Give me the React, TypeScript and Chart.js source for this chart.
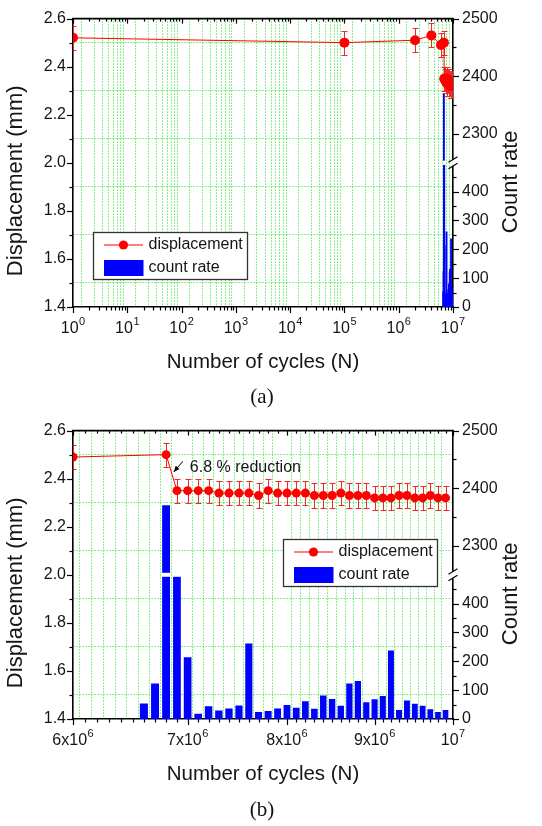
import React, { useEffect, useRef } from 'react';
import { Chart, registerables } from 'chart.js';

Chart.register(...registerables);

// ---------------- data ----------------
const DISP_CYCLES = [
  1, 100000, 2000000, 4000000, 6000000, 6800000,
  6900000, 7000000, 7100000, 7200000, 7300000, 7400000, 7500000, 7600000, 7700000, 7800000,
  7900000, 8000000, 8100000, 8200000, 8300000, 8400000, 8500000, 8600000, 8700000, 8800000,
  8900000, 9000000, 9100000, 9200000, 9300000, 9400000, 9500000, 9600000, 9700000, 9800000, 9900000,
];
const DISP_VALUES = [
  2.52, 2.50, 2.51, 2.53, 2.49, 2.50,
  2.35, 2.35, 2.35, 2.35, 2.34, 2.34, 2.34, 2.34, 2.33, 2.35,
  2.34, 2.34, 2.34, 2.34, 2.33, 2.33, 2.33, 2.34, 2.33, 2.33,
  2.33, 2.32, 2.32, 2.32, 2.33, 2.33, 2.32, 2.32, 2.33, 2.32, 2.32,
];
const DISP_ERR = [
  0.05, 0.05, 0.05, 0.05, 0.05, 0.05,
  0.05, 0.05, 0.05, 0.05, 0.05, 0.05, 0.05, 0.05, 0.05, 0.05,
  0.05, 0.05, 0.05, 0.05, 0.05, 0.05, 0.05, 0.05, 0.05, 0.05,
  0.05, 0.05, 0.05, 0.05, 0.05, 0.05, 0.05, 0.05, 0.05, 0.05, 0.05,
];
const COUNT_CYCLES = [
  6600000, 6700000, 6800000, 6900000, 7000000, 7100000, 7200000, 7300000, 7400000, 7500000,
  7600000, 7700000, 7800000, 7900000, 8000000, 8100000, 8200000, 8300000, 8400000, 8500000,
  8600000, 8700000, 8800000, 8900000, 9000000, 9100000, 9200000, 9300000, 9400000, 9500000,
  9600000, 9700000, 9800000, 9900000,
];
const COUNT_VALUES = [
  53, 122, 2370, 1200, 213, 17, 43, 28, 35, 46,
  261, 23, 27, 35, 47, 38, 60, 34, 80, 68,
  45, 122, 131, 57, 67, 79, 236, 30, 63, 52,
  45, 33, 23, 30,
];

// ---------------- axes / ticks ----------------
const DISP_RANGE = [1.4, 2.6];
const DISP_TICKS = [1.4, 1.5, 1.6, 1.7, 1.8, 1.9, 2.0, 2.1, 2.2, 2.3, 2.4, 2.5, 2.6];
const DISP_TICK_LABELS = ['1.4', '1.6', '1.8', '2.0', '2.2', '2.4', '2.6'];
const DISP_GRID = [1.5, 1.7, 1.9, 2.1, 2.3, 2.5];

const COUNT_LOW_RANGE = [0, 500];
const COUNT_HIGH_RANGE = [2250, 2500];
const COUNT_LOW_TICKS = [0, 50, 100, 150, 200, 250, 300, 350, 400, 450];
const COUNT_HIGH_TICKS = [2300, 2350, 2400, 2450, 2500];
const COUNT_TICK_LABELS = [0, 100, 200, 300, 400, 2300, 2400, 2500];

const X_A_DECADES = [1, 10, 100, 1000, 10000, 100000, 1000000];
const X_A_MULT = [1, 2, 3, 4, 5, 6, 7, 8, 9];
const X_A_MAJOR = [1, 10, 100, 1000, 10000, 100000, 1000000, 10000000];
const X_A_LABELS = [['10', '0'], ['10', '1'], ['10', '2'], ['10', '3'], ['10', '4'], ['10', '5'], ['10', '6'], ['10', '7']];

const X_B_MAJOR = [6000000, 7000000, 8000000, 9000000, 10000000];
const X_B_LABELS = [['6x10', '6'], ['7x10', '6'], ['8x10', '6'], ['9x10', '6'], ['10', '7']];
const X_B_MINOR_STEP = 100000;

const ANNOT_TEXT = '6.8 % reduction';
const ANNOT_ARROW_FROM = [6955000, 2.472];
const ANNOT_ARROW_TO = [6870000, 2.428];
const ANNOT_TEXT_AT = [7020000, 2.445];

// ---------------- style ----------------
const FONT = "'Liberation Sans', Arial, Helvetica, sans-serif";
const RED = '#ff0000';
const ERR_COLOR = '#f02a2a';
const BLUE = '#0000ff';
const GRID = 'rgb(20,225,20)';
const TEXT = '#151515';
const CW = 542;
const CH = 385;

const near = (a: number, b: number) => Math.abs(a - b) <= 1e-7 * Math.max(1, Math.abs(b));

function ticksA(): number[] {
  const out: number[] = [];
  X_A_DECADES.forEach((d) => X_A_MULT.forEach((m) => out.push(m * d)));
  out.push(10000000);
  return out;
}
function ticksB(): number[] {
  const out: number[] = [];
  for (let v = X_B_MAJOR[0]; v < X_B_MAJOR[X_B_MAJOR.length - 1] - 1; v += X_B_MINOR_STEP) out.push(v);
  out.push(X_B_MAJOR[X_B_MAJOR.length - 1]);
  return out;
}

type Panel = {
  xMin: number; xMax: number; xTicks: number[]; xMajor: number[]; xLabels: string[][];
  pointRadius: number; barThickness: any; legendDX: number; legendDY: number; annotate: boolean;
};

const PANEL_A: Panel = {
  xMin: 1, xMax: 10000000, xTicks: ticksA(), xMajor: X_A_MAJOR, xLabels: X_A_LABELS,
  pointRadius: 5, barThickness: 1.2, legendDX: 19.7, legendDY: 213.3, annotate: false,
};
const PANEL_B: Panel = {
  xMin: 6000000, xMax: 10000000, xTicks: ticksB(), xMajor: X_B_MAJOR, xLabels: X_B_LABELS,
  pointRadius: 4.5, barThickness: 'flex', legendDX: 209.7, legendDY: 108.3, annotate: true,
};

function line(ctx: CanvasRenderingContext2D, x1: number, y1: number, x2: number, y2: number) {
  ctx.beginPath();
  ctx.moveTo(x1, y1);
  ctx.lineTo(x2, y2);
  ctx.stroke();
}

function makePlugin(P: Panel) {
  const isMajorX = (v: number) => P.xMajor.some((m) => near(v, m));
  return {
    id: 'custom',
    beforeDatasetDraw(chart: any, args: any) {
      if (args.meta.type !== 'line') return;
      const { ctx, chartArea: a } = chart;
      const xs = chart.scales.x;
      const ys = chart.scales.y;
      ctx.save();
      ctx.beginPath();
      ctx.rect(a.left, a.top, a.right - a.left, a.bottom - a.top);
      ctx.clip();
      ctx.strokeStyle = ERR_COLOR;
      ctx.lineWidth = 1;
      const cap = 3;
      DISP_CYCLES.forEach((c, i) => {
        if (c < P.xMin || c > P.xMax) return;
        const px = Math.round(xs.getPixelForValue(c)) + 0.5;
        const y1 = Math.round(ys.getPixelForValue(DISP_VALUES[i] + DISP_ERR[i])) + 0.5;
        const y2 = Math.round(ys.getPixelForValue(DISP_VALUES[i] - DISP_ERR[i])) + 0.5;
        ctx.beginPath();
        ctx.moveTo(px, y1); ctx.lineTo(px, y2);
        ctx.moveTo(px - cap, y1); ctx.lineTo(px + cap, y1);
        ctx.moveTo(px - cap, y2); ctx.lineTo(px + cap, y2);
        ctx.stroke();
      });
      ctx.restore();
    },
    afterDatasetsDraw(chart: any) {
      const { ctx } = chart;
      const yLow = chart.scales.yLow;
      const yb = yLow.top;
      const meta = chart.getDatasetMeta(1);
      ctx.save();
      ctx.fillStyle = '#ffffff';
      meta.data.forEach((el: any, i: number) => {
        if (COUNT_VALUES[i] > COUNT_LOW_RANGE[1]) {
          const w = el.width;
          ctx.fillRect(el.x - w / 2 - 0.5, yb - 2, w + 1, 4);
        }
      });
      ctx.restore();
    },
    afterDraw(chart: any) {
      const { ctx, chartArea: a } = chart;
      const xs = chart.scales.x;
      const ys = chart.scales.y;
      const yLow = chart.scales.yLow;
      const yHigh = chart.scales.yHigh;
      ctx.save();

      // top frame
      ctx.strokeStyle = '#000';
      ctx.lineWidth = 1.6;
      line(ctx, a.left - 0.8, a.top, a.right + 0.8, a.top);

      // tick marks
      ctx.lineWidth = 1.2;
      xs.ticks.forEach((t: any) => {
        const px = Math.round(xs.getPixelForValue(t.value)) + 0.5;
        const major = isMajorX(t.value);
        line(ctx, px, a.bottom, px, a.bottom + (major ? 6 : 3.5));
        line(ctx, px, a.top, px, a.top + (major ? 5 : 3));
      });
      ys.ticks.forEach((t: any) => {
        const py = Math.round(ys.getPixelForValue(t.value)) + 0.5;
        const major = DISP_TICK_LABELS.some((l) => near(+l, t.value));
        line(ctx, a.left - (major ? 6 : 3.5), py, a.left, py);
      });
      [yLow, yHigh].forEach((s: any) => {
        s.ticks.forEach((t: any) => {
          const py = Math.round(s.getPixelForValue(t.value)) + 0.5;
          const major = COUNT_TICK_LABELS.includes(t.value);
          line(ctx, a.right, py, a.right + (major ? 6 : 3.5), py);
        });
      });

      // axis break marks
      const yb = yLow.top;
      ctx.fillStyle = '#ffffff';
      ctx.fillRect(a.right - 2, yb - 3, 4, 6);
      ctx.strokeStyle = '#000';
      ctx.lineWidth = 1.2;
      line(ctx, a.right - 4.5, yb - 0.5, a.right + 4.5, yb - 6);
      line(ctx, a.right - 4.5, yb + 6, a.right + 4.5, yb + 0.5);

      // x tick labels with superscripts
      ctx.fillStyle = TEXT;
      ctx.textBaseline = 'alphabetic';
      ctx.textAlign = 'left';
      P.xMajor.forEach((v, i) => {
        const [base, exp] = P.xLabels[i];
        const px = xs.getPixelForValue(v);
        ctx.font = `16px ${FONT}`;
        const wb = ctx.measureText(base).width;
        ctx.font = `11px ${FONT}`;
        const we = ctx.measureText(exp).width;
        const x0 = px - (wb + we + 0.5) / 2;
        const by = a.bottom + 25.5;
        ctx.font = `16px ${FONT}`;
        ctx.fillText(base, x0, by);
        ctx.font = `11px ${FONT}`;
        ctx.fillText(exp, x0 + wb + 0.5, by - 8);
      });

      // y titles
      const cy = (a.top + a.bottom) / 2 + 18;
      ctx.font = `22px ${FONT}`;
      ctx.textAlign = 'center';
      ctx.textBaseline = 'middle';
      ctx.save();
      ctx.translate(16, cy);
      ctx.rotate(-Math.PI / 2);
      ctx.fillText('Displacement (mm)', 0, 0);
      ctx.restore();
      ctx.save();
      ctx.translate(a.right + 58, cy + 1);
      ctx.rotate(-Math.PI / 2);
      ctx.fillText('Count rate', 0, 0);
      ctx.restore();

      // legend
      const bx = Math.round(a.left + P.legendDX) + 0.5;
      const by = Math.round(a.top + P.legendDY) + 0.5;
      const bw = 154;
      const bh = 47;
      ctx.fillStyle = '#ffffff';
      ctx.fillRect(bx, by, bw, bh);
      ctx.strokeStyle = '#333';
      ctx.lineWidth = 1.3;
      ctx.strokeRect(bx, by, bw, bh);
      ctx.strokeStyle = RED;
      ctx.lineWidth = 1;
      line(ctx, bx + 10.5, by + 12.5, bx + 49.5, by + 12.5);
      ctx.fillStyle = RED;
      ctx.beginPath();
      ctx.arc(bx + 30, by + 12.5, 4.6, 0, Math.PI * 2);
      ctx.fill();
      ctx.fillStyle = BLUE;
      ctx.fillRect(bx + 10.5, by + 27.5, 39.5, 16);
      ctx.fillStyle = TEXT;
      ctx.font = `16px ${FONT}`;
      ctx.textAlign = 'left';
      ctx.textBaseline = 'middle';
      ctx.fillText('displacement', bx + 55, by + 12.5);
      ctx.fillText('count rate', bx + 55, by + 35.5);

      // annotation
      if (P.annotate) {
        const fx = xs.getPixelForValue(ANNOT_ARROW_FROM[0]);
        const fy = ys.getPixelForValue(ANNOT_ARROW_FROM[1]);
        const tx = xs.getPixelForValue(ANNOT_ARROW_TO[0]);
        const ty = ys.getPixelForValue(ANNOT_ARROW_TO[1]);
        ctx.strokeStyle = '#000';
        ctx.fillStyle = '#000';
        ctx.lineWidth = 1;
        line(ctx, fx, fy, tx, ty);
        const ang = Math.atan2(ty - fy, tx - fx);
        const hl = 6;
        const hw = 2.6;
        ctx.beginPath();
        ctx.moveTo(tx, ty);
        ctx.lineTo(tx - hl * Math.cos(ang) + hw * Math.sin(ang), ty - hl * Math.sin(ang) - hw * Math.cos(ang));
        ctx.lineTo(tx - hl * Math.cos(ang) - hw * Math.sin(ang), ty - hl * Math.sin(ang) + hw * Math.cos(ang));
        ctx.closePath();
        ctx.fill();
        ctx.fillStyle = TEXT;
        ctx.font = `16px ${FONT}`;
        ctx.textAlign = 'left';
        ctx.textBaseline = 'middle';
        ctx.fillText(ANNOT_TEXT, xs.getPixelForValue(ANNOT_TEXT_AT[0]), ys.getPixelForValue(ANNOT_TEXT_AT[1]));
      }
      ctx.restore();
    },
  };
}

function makeConfig(P: Panel): any {
  const isMajorX = (v: number) => P.xMajor.some((m) => near(v, m));
  const transparent = 'rgba(0,0,0,0)';
  const tickFont = { family: FONT, size: 16 };
  return {
    type: 'bar',
    data: {
      datasets: [
        {
          type: 'line',
          label: 'displacement',
          data: DISP_CYCLES.map((x, i) => ({ x, y: DISP_VALUES[i] })),
          xAxisID: 'x',
          yAxisID: 'y',
          borderColor: RED,
          backgroundColor: RED,
          borderWidth: 1,
          pointRadius: P.pointRadius,
          pointHoverRadius: P.pointRadius,
          pointBackgroundColor: RED,
          pointBorderColor: RED,
          pointBorderWidth: 0,
          tension: 0,
          order: 0,
        },
        {
          type: 'bar',
          label: 'count rate',
          data: COUNT_CYCLES.map((x, i) => ({ x, y: Math.min(COUNT_VALUES[i], COUNT_LOW_RANGE[1]) })),
          xAxisID: 'x',
          yAxisID: 'yLow',
          backgroundColor: BLUE,
          borderWidth: 0,
          stack: 'count',
          barThickness: P.barThickness,
          categoryPercentage: 1,
          barPercentage: 0.66,
          order: 1,
        },
        {
          type: 'bar',
          label: 'count rate (upper)',
          data: COUNT_CYCLES.map((x, i) => ({
            x,
            y: COUNT_VALUES[i] > COUNT_HIGH_RANGE[0] ? [COUNT_HIGH_RANGE[0], COUNT_VALUES[i]] : null,
          })),
          xAxisID: 'x',
          yAxisID: 'yHigh',
          backgroundColor: BLUE,
          borderWidth: 0,
          stack: 'count',
          barThickness: P.barThickness,
          categoryPercentage: 1,
          barPercentage: 0.66,
          order: 1,
        },
      ],
    },
    options: {
      responsive: false,
      animation: false,
      events: [],
      layout: { padding: { top: 16, left: 0, right: 0, bottom: 0 } },
      plugins: { legend: { display: false }, tooltip: { enabled: false } },
      scales: {
        x: {
          type: 'logarithmic',
          position: 'bottom',
          min: P.xMin,
          max: P.xMax,
          afterBuildTicks: (s: any) => { s.ticks = P.xTicks.map((v) => ({ value: v })); },
          afterFit: (s: any) => { s.height = CH - 307; },
          ticks: { display: false, autoSkip: false },
          grid: {
            drawTicks: false,
            lineWidth: 1,
            color: (c: any) => (c.tick && !isMajorX(c.tick.value) ? GRID : transparent),
          },
          border: { display: true, color: '#000', width: 1.6, dash: [1, 2] },
          title: {
            display: true,
            text: 'Number of cycles (N)',
            color: TEXT,
            font: { family: FONT, size: 20.5 },
            padding: { top: 0, bottom: 10.7 },
          },
        },
        y: {
          type: 'linear',
          position: 'left',
          min: DISP_RANGE[0],
          max: DISP_RANGE[1],
          afterBuildTicks: (s: any) => { s.ticks = DISP_TICKS.map((v) => ({ value: v })); },
          afterFit: (s: any) => { s.width = 73; },
          ticks: {
            autoSkip: false,
            padding: 7,
            color: TEXT,
            font: tickFont,
            callback: (v: number) => DISP_TICK_LABELS.find((l) => near(+l, v)) ?? '',
          },
          grid: {
            drawTicks: false,
            lineWidth: 1,
            color: (c: any) => (c.tick && DISP_GRID.some((g) => near(g, c.tick.value)) ? GRID : transparent),
          },
          border: { display: true, color: '#000', width: 1.6, dash: [1, 2] },
        },
        yHigh: {
          type: 'linear',
          position: 'right',
          stack: 'count',
          stackWeight: 1,
          min: COUNT_HIGH_RANGE[0],
          max: COUNT_HIGH_RANGE[1],
          afterBuildTicks: (s: any) => { s.ticks = COUNT_HIGH_TICKS.map((v) => ({ value: v })); },
          afterFit: (s: any) => { s.width = CW - 453; },
          ticks: {
            autoSkip: false,
            padding: 9,
            color: TEXT,
            font: tickFont,
            callback: (v: number) => (COUNT_TICK_LABELS.includes(v) ? String(v) : ''),
          },
          grid: { display: false, drawTicks: false },
          border: { display: true, color: '#000', width: 1.6 },
        },
        yLow: {
          type: 'linear',
          position: 'right',
          stack: 'count',
          stackWeight: 1,
          min: COUNT_LOW_RANGE[0],
          max: COUNT_LOW_RANGE[1],
          afterBuildTicks: (s: any) => { s.ticks = COUNT_LOW_TICKS.map((v) => ({ value: v })); },
          afterFit: (s: any) => { s.width = CW - 453; },
          ticks: {
            autoSkip: false,
            padding: 9,
            color: TEXT,
            font: tickFont,
            callback: (v: number) => (COUNT_TICK_LABELS.includes(v) ? String(v) : ''),
          },
          grid: { display: false, drawTicks: false },
          border: { display: true, color: '#000', width: 1.6 },
        },
      },
    },
    plugins: [makePlugin(P)],
  };
}

export default function App() {
  const refA = useRef<HTMLCanvasElement>(null);
  const refB = useRef<HTMLCanvasElement>(null);

  useEffect(() => {
    const charts: Chart[] = [];
    if (refA.current) charts.push(new Chart(refA.current, makeConfig(PANEL_A)));
    if (refB.current) charts.push(new Chart(refB.current, makeConfig(PANEL_B)));
    return () => charts.forEach((c) => c.destroy());
  }, []);

  const caption: React.CSSProperties = {
    position: 'absolute',
    left: 0,
    width: 524,
    textAlign: 'center',
    fontFamily: "'Liberation Serif', 'Times New Roman', serif",
    fontSize: 21,
    lineHeight: '24px',
    color: '#111',
  };

  return (
    <div style={{ position: 'fixed', left: 0, top: 0, width: CW, height: 826, background: '#fff', overflow: 'hidden' }}>
      <div style={{ position: 'absolute', left: 0, top: 0, width: CW, height: CH }}>
        <canvas ref={refA} width={CW} height={CH} style={{ display: 'block' }} />
      </div>
      <div style={{ ...caption, top: 384 }}>(a)</div>
      <div style={{ position: 'absolute', left: 0, top: 412, width: CW, height: CH }}>
        <canvas ref={refB} width={CW} height={CH} style={{ display: 'block' }} />
      </div>
      <div style={{ ...caption, top: 797 }}>(b)</div>
    </div>
  );
}
